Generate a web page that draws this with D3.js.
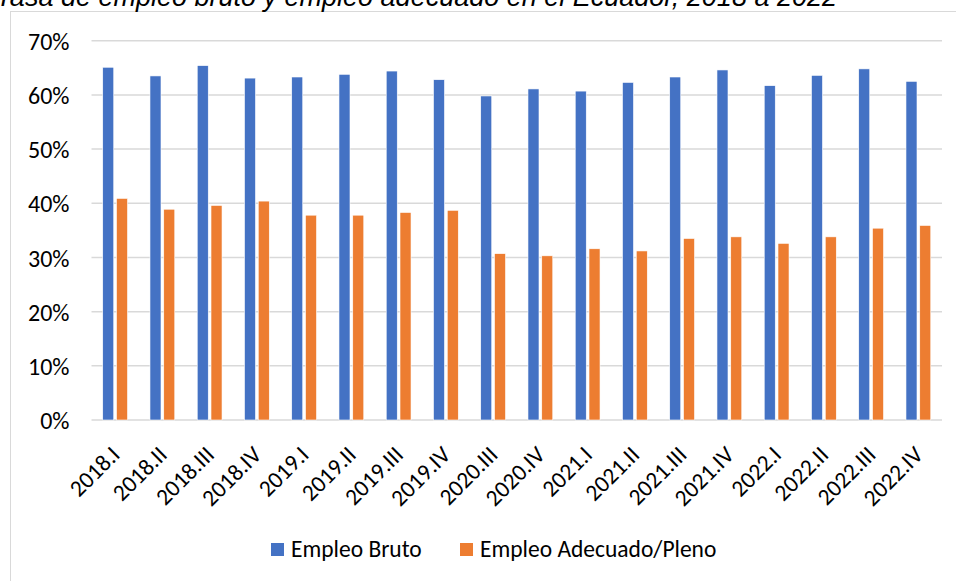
<!DOCTYPE html>
<html>
<head>
<meta charset="utf-8">
<script src="https://cdn.jsdelivr.net/npm/d3@7"></script>
<style>
  body { margin: 0; background: #fff; }
  svg { display: block; }
</style>
</head>
<body>
<svg id="chart" width="956" height="581"></svg>
<script>
// trimestres
var categories = ["2018.I", "2018.II", "2018.III", "2018.IV", "2019.I", "2019.II", "2019.III", "2019.IV",
    "2020.III", "2020.IV", "2021.I", "2021.II", "2021.III", "2021.IV", "2022.I", "2022.II", "2022.III", "2022.IV"]
var series = ["Empleo Bruto", "Empleo Adecuado/Pleno"]
var empleoBruto = [65.1, 63.5, 65.4, 63.1, 63.3, 63.8, 64.4, 62.8, 59.8, 61.1, 60.7, 62.3, 63.3, 64.6, 61.7, 63.6, 64.8, 62.5]
var empleoAdecuado = [40.9, 38.9, 39.6, 40.4, 37.8, 37.8, 38.3, 38.7, 30.7, 30.3, 31.6, 31.2, 33.5, 33.8, 32.6, 33.8, 35.4, 35.9]
var yTicks = [0, 10, 20, 30, 40, 50, 60, 70]
var colors = ["#4472C4", "#ED7D31"]
var title = "Tasa de empleo bruto y empleo adecuado en el Ecuador, 2018 a 2022"

var svg = d3.select("#chart")
var font = "Carlito, Calibri, Lato, sans-serif"

// marco del grafico
svg.append("rect")
    .attr("x", 10.5).attr("y", 11.5)
    .attr("width", 1000).attr("height", 700)
    .attr("fill", "none").attr("stroke", "#d9d9d9").attr("stroke-width", 1)

// titulo (cortado arriba, como en el original)
svg.append("text")
    .attr("x", 837).attr("y", 5.5)
    .attr("text-anchor", "end")
    .attr("font-family", "Liberation Sans, Arial, sans-serif")
    .attr("font-style", "italic")
    .attr("font-size", 27)
    .attr("fill", "#000")
    .text(title)

var margin = { left: 91.5, right: 942, top: 40.7, bottom: 420 }

var x = d3.scaleBand().domain(categories).range([margin.left, margin.right]).padding(0)
var bw = x.bandwidth()
var xs = d3.scaleBand().domain(series).range([bw / 2 - 12.4, bw / 2 + 12.4]).paddingInner(0.2)
var y = d3.scaleLinear().domain([0, 70]).range([margin.bottom, margin.top])

// grid
svg.append("g")
    .selectAll("line")
    .data(yTicks)
    .enter()
    .append("line")
    .attr("x1", margin.left).attr("x2", margin.right)
    .attr("y1", d => y(d)).attr("y2", d => y(d))
    .attr("stroke", "#d9d9d9").attr("stroke-width", 1.5)

// eje y
var yAxis = svg.append("g")
    .attr("transform", "translate(" + (margin.left - 22) + ",0)")
    .call(d3.axisLeft(y).tickValues(yTicks).tickFormat(d => d + "%").tickSize(0).tickPadding(0))
yAxis.select(".domain").remove()
yAxis.selectAll("text")
    .attr("font-family", font).attr("font-size", 24).attr("fill", "#000")
    .attr("dy", "0.36em")

// barras
var rows = categories.map((c, i) => ({ cat: c, vals: [empleoBruto[i], empleoAdecuado[i]] }))
var groups = svg.append("g")
    .selectAll("g")
    .data(rows)
    .enter()
    .append("g")
    .attr("transform", d => "translate(" + x(d.cat) + ",0)")

groups.selectAll("rect")
    .data(d => d.vals.map((v, j) => ({ s: series[j], v: v, j: j })))
    .enter()
    .append("rect")
    .attr("x", d => xs(d.s))
    .attr("y", d => y(d.v))
    .attr("width", xs.bandwidth())
    .attr("height", d => y(0) - y(d.v))
    .attr("fill", d => colors[d.j])
    .attr("stroke", "#fff").attr("stroke-width", 0.6)

// eje x
var xAxis = svg.append("g")
    .attr("transform", "translate(0," + margin.bottom + ")")
    .call(d3.axisBottom(x).tickSize(0).tickPadding(0))
xAxis.select(".domain").remove()
xAxis.selectAll("text")
    .attr("font-family", font).attr("font-size", 23.5).attr("fill", "#000")
    .attr("text-anchor", "end")
    .attr("dy", 0)
    .attr("transform", "translate(6,36) rotate(-45)")

// leyenda
var legendX = [271, 460]
var legend = svg.append("g")
    .selectAll("g")
    .data(series)
    .enter()
    .append("g")
    .attr("transform", (d, i) => "translate(" + legendX[i] + ",543)")
legend.append("rect")
    .attr("width", 13).attr("height", 13)
    .attr("fill", (d, i) => colors[i])
legend.append("text")
    .attr("x", 20).attr("y", 13.5)
    .attr("font-family", font).attr("font-size", 23.5).attr("fill", "#000")
    .text(d => d)
</script>
</body>
</html>
